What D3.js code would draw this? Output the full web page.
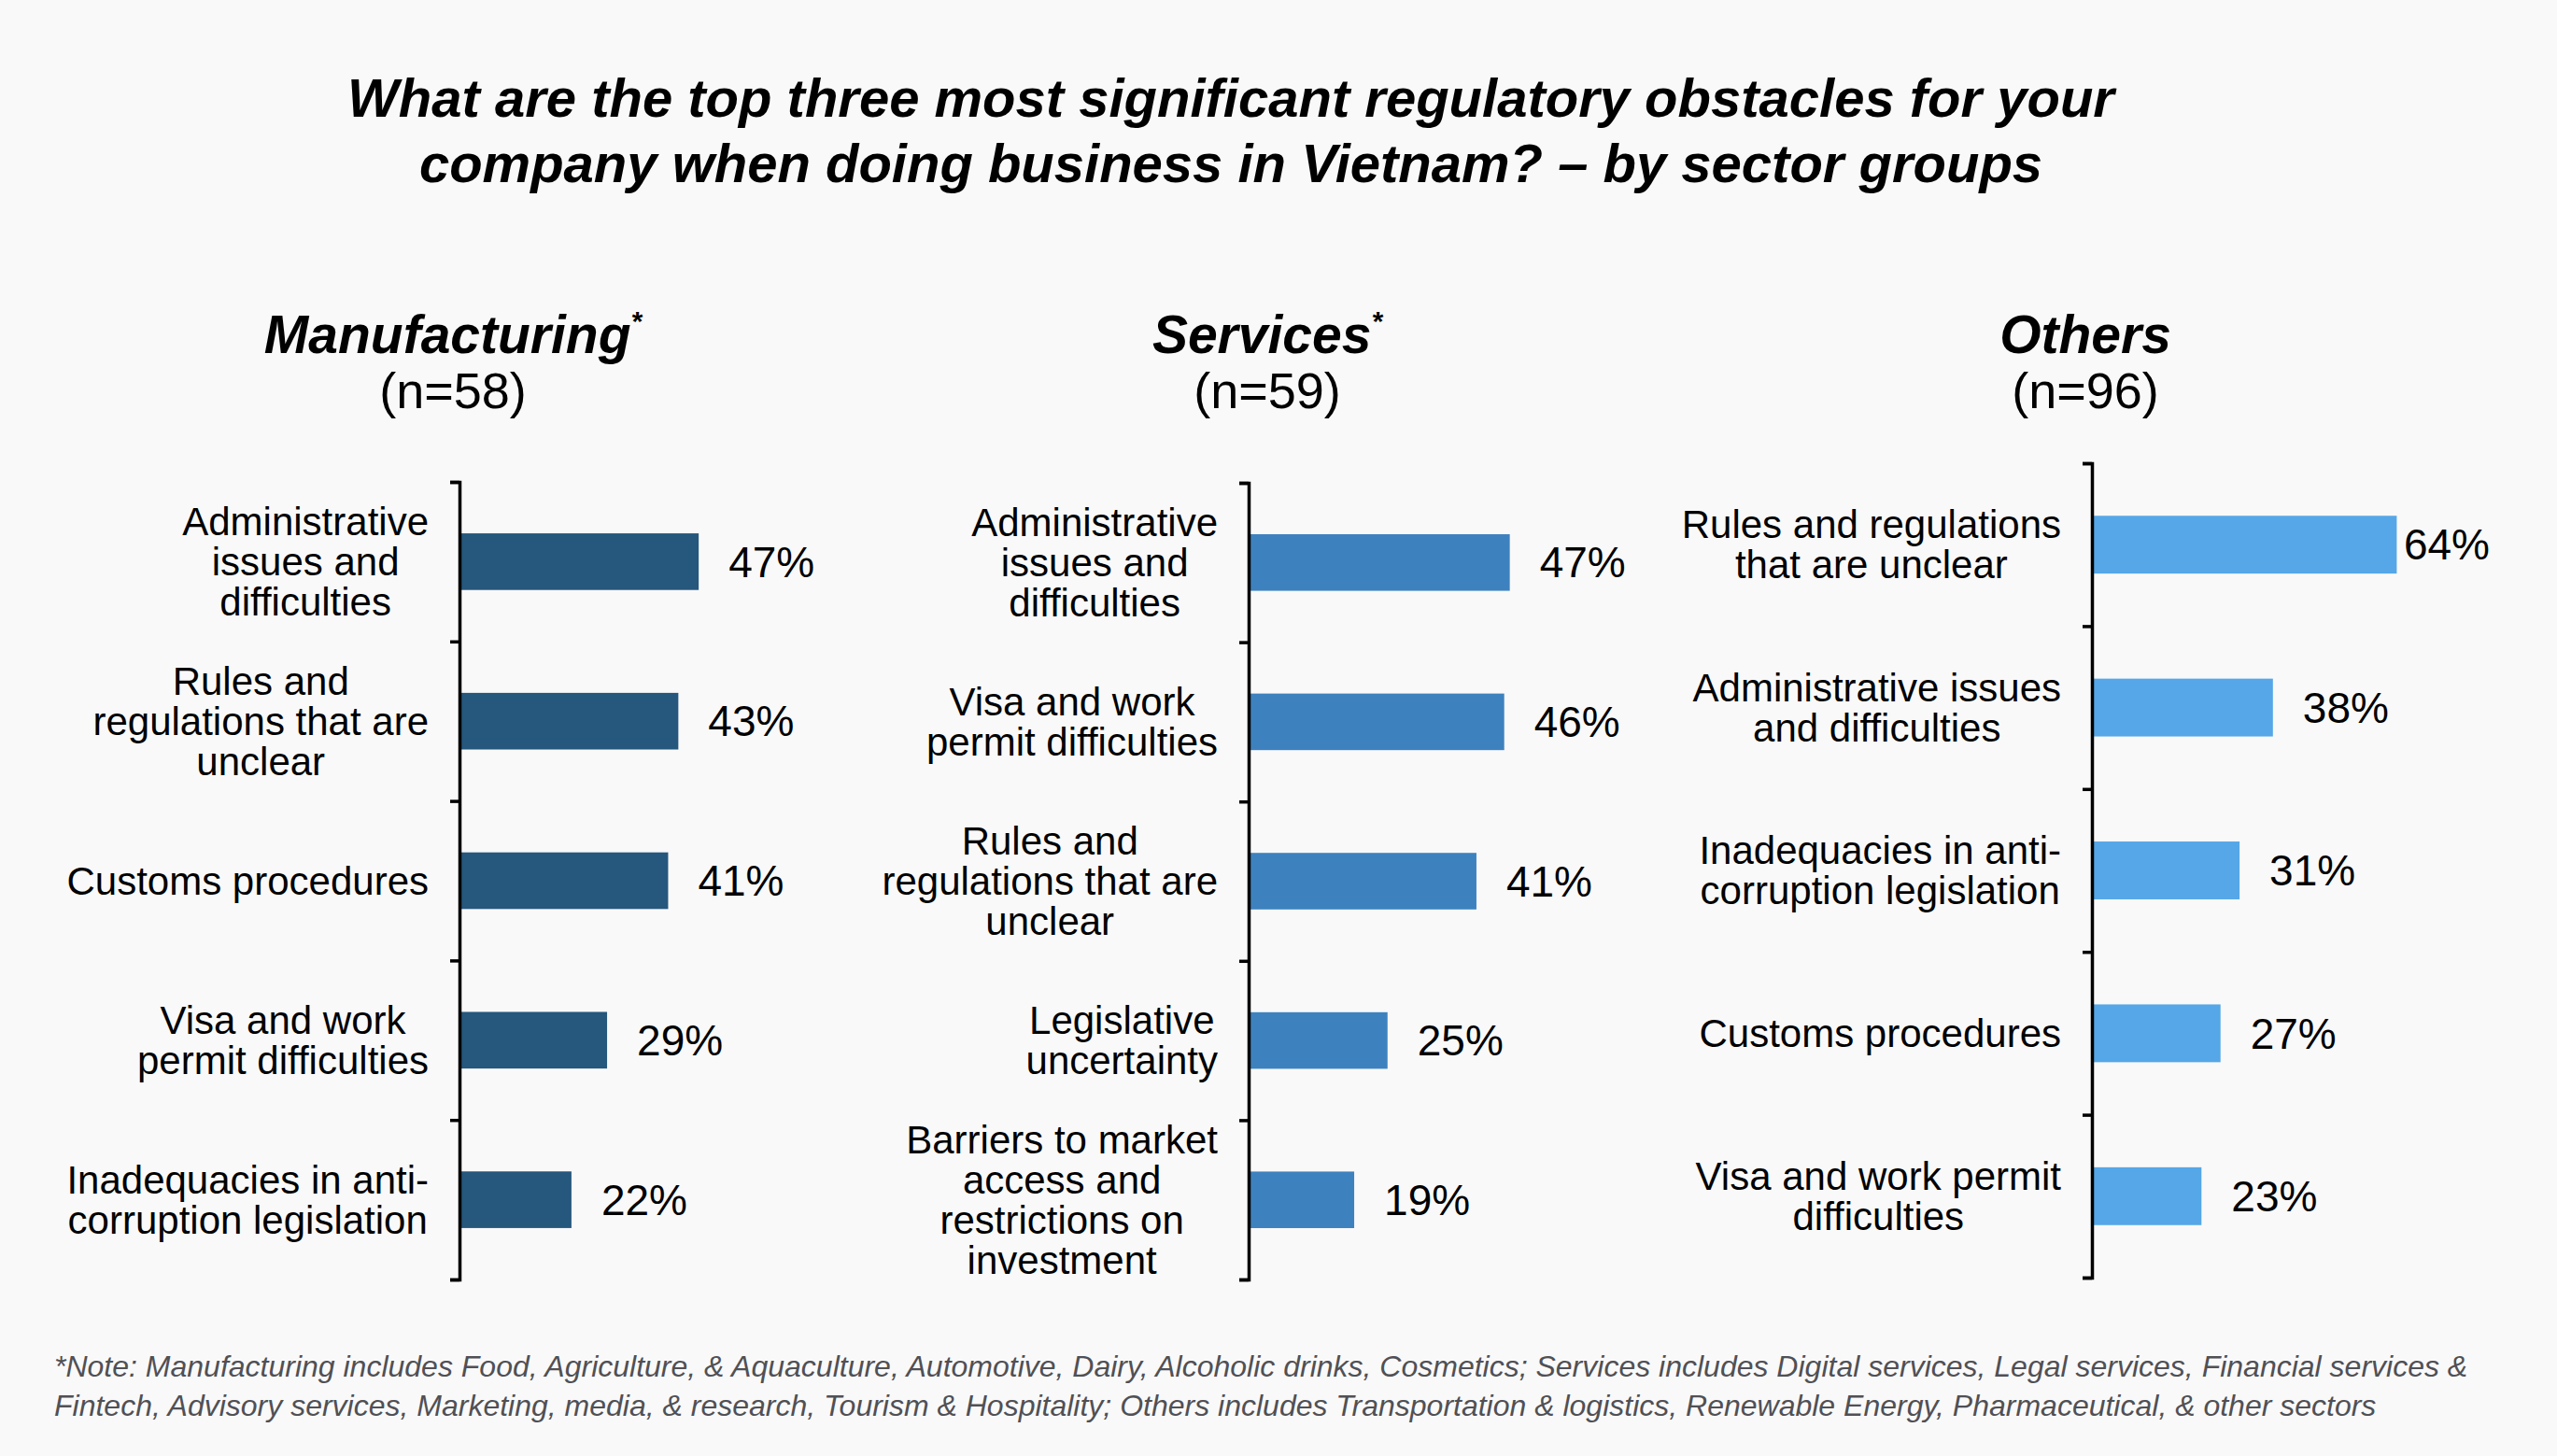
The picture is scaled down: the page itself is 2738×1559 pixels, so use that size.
<!DOCTYPE html>
<html>
<head>
<meta charset="utf-8">
<script src="https://cdn.jsdelivr.net/npm/d3@7"></script>
<style>
  html, body { margin: 0; padding: 0; background: #f9f9f9; }
  svg { display: block; font-family: "Liberation Sans", Arial, Helvetica, sans-serif; }
</style>
</head>
<body>
<svg id="chart" width="2738" height="1559"></svg>
<script>
// ---------- DATA ----------
const titleLines = [
  "What are the top three most significant regulatory obstacles for your",
  "company when doing business in Vietnam? \u2013 by sector groups"
];
const panelNames = ["Manufacturing", "Services", "Others"];
const panelStars = [true, true, false];
const panelSampleSizes = ["(n=58)", "(n=59)", "(n=96)"];

const manufacturingCategories = [
  "Administrative\nissues and\ndifficulties",
  "Rules and\nregulations that are\nunclear",
  "Customs procedures",
  "Visa and work\npermit difficulties",
  "Inadequacies in anti-\ncorruption legislation"
];
const manufacturingValues = [47, 43, 41, 29, 22];

const servicesCategories = [
  "Administrative\nissues and\ndifficulties",
  "Visa and work\npermit difficulties",
  "Rules and\nregulations that are\nunclear",
  "Legislative\nuncertainty",
  "Barriers to market\naccess and\nrestrictions on\ninvestment"
];
const servicesValues = [47, 46, 41, 25, 19];

const othersCategories = [
  "Rules and regulations\nthat are unclear",
  "Administrative issues\nand difficulties",
  "Inadequacies in anti-\ncorruption legislation",
  "Customs procedures",
  "Visa and work permit\ndifficulties"
];
const othersValues = [64, 38, 31, 27, 23];

const noteLines = [
  "*Note: Manufacturing includes Food, Agriculture, & Aquaculture, Automotive, Dairy, Alcoholic drinks, Cosmetics; Services includes Digital services, Legal services, Financial services &",
  "Fintech, Advisory services, Marketing, media, & research, Tourism & Hospitality; Others includes Transportation & logistics, Renewable Energy, Pharmaceutical, & other sectors"
];

// ---------- LAYOUT ----------
const panels = [
  { cats: manufacturingCategories, vals: manufacturingValues, color: "#26577d",
    axisX: 492, top: 516, bottom: 1370, pxPer100: 545, plotW: 430, titleX: 485 },
  { cats: servicesCategories, vals: servicesValues, color: "#3d82bf",
    axisX: 1337, top: 517, bottom: 1370, pxPer100: 595, plotW: 440, titleX: 1357 },
  { cats: othersCategories, vals: othersValues, color: "#55a7e7",
    axisX: 2240, top: 496, bottom: 1368, pxPer100: 510, plotW: 426, titleX: 2233 }
];

const svg = d3.select("#chart");
svg.append("rect").attr("width", 2738).attr("height", 1559).attr("fill", "#f9f9f9");

// Main title
svg.append("text")
  .attr("x", 1318).attr("y", 125)
  .attr("text-anchor", "middle")
  .attr("font-size", 58).attr("font-weight", "bold").attr("font-style", "italic")
  .attr("fill", "#000")
  .selectAll("tspan").data(titleLines).join("tspan")
  .attr("x", 1318).attr("dy", (d, i) => i === 0 ? 0 : 70)
  .text(d => d);

panels.forEach((p, pi) => {
  const g = svg.append("g");

  // Panel title
  const t = g.append("text")
    .attr("x", p.titleX).attr("y", 378)
    .attr("text-anchor", "middle")
    .attr("font-size", 57).attr("font-weight", "bold").attr("font-style", "italic")
    .attr("fill", "#000");
  t.append("tspan").text(panelNames[pi]);
  if (panelStars[pi]) {
    t.append("tspan").attr("font-size", 30).attr("dy", -24).text("*");
  }
  g.append("text")
    .attr("x", p.titleX).attr("y", 437)
    .attr("text-anchor", "middle")
    .attr("font-size", 54)
    .attr("fill", "#000")
    .text(panelSampleSizes[pi]);

  // Scales
  const n = p.vals.length;
  const x = d3.scaleLinear().domain([0, 100]).range([p.axisX, p.axisX + p.pxPer100]);
  const yBand = d3.scaleBand().domain(d3.range(n)).range([p.top, p.bottom])
    .paddingInner(0.645).paddingOuter(0.3225);
  const yLin = d3.scaleLinear().domain([0, n]).range([p.top, p.bottom]);

  // Bars
  g.selectAll("rect.bar").data(p.vals).join("rect")
    .attr("class", "bar")
    .attr("x", x(0))
    .attr("y", (d, i) => yBand(i))
    .attr("width", d => x(d) - x(0))
    .attr("height", yBand.bandwidth())
    .attr("fill", p.color);

  // Axis (ticks at category boundaries)
  const axis = g.append("g")
    .attr("transform", `translate(${p.axisX},0)`)
    .call(d3.axisLeft(yLin).tickValues(d3.range(n + 1)).tickSize(10).tickSizeOuter(10).tickFormat(""));
  axis.selectAll("path, line").attr("stroke", "#000").attr("stroke-width", 3.5);

  // Value labels
  const labels = g.selectAll("text.val").data(p.vals).join("text")
    .attr("class", "val")
    .attr("y", (d, i) => yBand(i) + yBand.bandwidth() / 2)
    .attr("dy", "0.35em")
    .attr("font-size", 46)
    .attr("fill", "#000")
    .text(d => d + "%");
  labels.attr("x", function(d) {
    const w = this.getComputedTextLength();
    return Math.min(x(d) + 32, p.axisX + p.plotW - w);
  });

  // Category labels (lines centered, block right-aligned)
  const lineH = 43;
  const rightEdge = p.axisX - 33;
  p.cats.forEach((c, i) => {
    const lines = c.split("\n");
    const cy = yBand(i) + yBand.bandwidth() / 2;
    const txt = g.append("text")
      .attr("font-size", 42).attr("fill", "#000")
      .attr("text-anchor", "middle");
    const tsp = txt.selectAll("tspan").data(lines).join("tspan")
      .attr("y", (d, j) => cy + (j - (lines.length - 1) / 2) * lineH)
      .attr("dy", "0.35em")
      .text(d => d);
    let maxW = 0;
    tsp.each(function() { maxW = Math.max(maxW, this.getComputedTextLength()); });
    tsp.attr("x", rightEdge - maxW / 2);
  });
});

// Footnote
svg.append("text")
  .attr("font-size", 32).attr("font-style", "italic").attr("fill", "#505055")
  .selectAll("tspan").data(noteLines).join("tspan")
  .attr("x", 58).attr("y", (d, i) => 1474 + i * 42)
  .text(d => d);
</script>
</body>
</html>
